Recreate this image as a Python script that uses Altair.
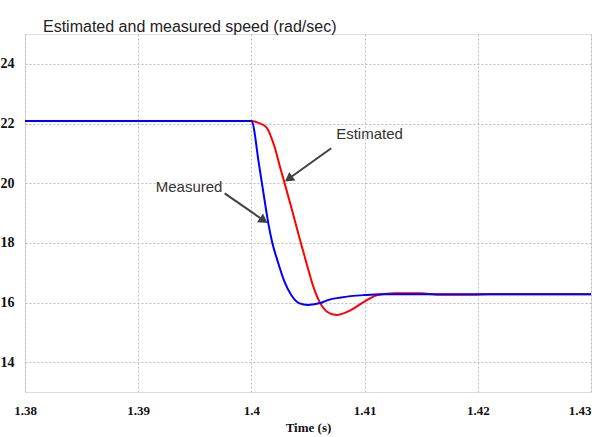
import altair as alt
import pandas as pd

# Measured speed (blue)
t_meas = [1.38, 1.40, 1.40068, 1.40130, 1.40152, 1.40183, 1.40234, 1.40293, 1.40352,
          1.40425, 1.40498, 1.40616, 1.40675, 1.40793, 1.40998, 1.41146, 1.43]
v_meas = [22.08, 22.08, 20.61, 19.10, 18.60, 18.03, 17.36, 16.69, 16.25,
          15.97, 15.92, 15.99, 16.08, 16.17, 16.25, 16.28, 16.28]

# Estimated speed (red)
t_est = [1.38, 1.40, 1.40028, 1.40057, 1.40131, 1.40205, 1.40253, 1.40285, 1.40359,
         1.40394, 1.40434, 1.40491, 1.40542, 1.40601, 1.40672, 1.40749, 1.40881,
         1.40998, 1.41116, 1.41263, 1.4150, 1.4165, 1.4195, 1.421, 1.43]
v_est = [22.08, 22.08, 22.07, 22.03, 21.88, 21.21, 20.54, 20.11, 19.10,
         18.60, 18.04, 17.26, 16.59, 16.03, 15.68, 15.58, 15.75,
         16.03, 16.25, 16.31, 16.31, 16.26, 16.26, 16.28, 16.28]

x_ticks = [1.38, 1.39, 1.40, 1.41, 1.42, 1.43]
y_ticks = [14, 16, 18, 20, 22, 24]

# Annotations (data units)
ann_labels = ["Estimated", "Measured"]
ann_text_t = [1.40749, 1.39155]
ann_text_v = [21.65, 19.87]
arrow_t0 = [1.40705, 1.39764]
arrow_v0 = [21.17, 19.66]
arrow_t1 = [1.40329, 1.40109]
arrow_v1 = [20.146, 18.75]
arrow_angle = [144.4, 34.7]

meas = pd.DataFrame({"t": t_meas, "v": v_meas})
est = pd.DataFrame({"t": t_est, "v": v_est})
ann = pd.DataFrame({"label": ann_labels, "tt": ann_text_t, "tv": ann_text_v,
                    "t0": arrow_t0, "v0": arrow_v0, "t1": arrow_t1, "v1": arrow_v1,
                    "ang": arrow_angle})

xscale = alt.Scale(domain=[1.38, 1.43], nice=False, zero=False)
yscale = alt.Scale(domain=[13, 25], nice=False, zero=False)

xaxis = alt.Axis(values=x_ticks, title="Time (s)", labelExpr="format(datum.value, '.2~f')",
                 grid=True, gridDash=[2, 2], gridColor="#bdbdbd", gridWidth=1,
                 ticks=False, domain=False, labelPadding=12,
                 labelFont="Liberation Serif", labelFontWeight="bold", labelFontSize=13,
                 labelColor="#111",
                 labelAlign={"condition": {"test": "datum.value >= 1.429", "value": "right"},
                             "value": "center"},
                 titleFont="Liberation Serif", titleFontWeight="bold", titleFontSize=13,
                 titleColor="#111", titlePadding=4)
yaxis = alt.Axis(values=y_ticks, title=None,
                 grid=True, gridDash=[2, 2], gridColor="#bdbdbd", gridWidth=1,
                 ticks=False, domain=False, labelPadding=11,
                 labelFont="Liberation Serif", labelFontWeight="bold", labelFontSize=14,
                 labelColor="#111")

base_x = alt.X("t:Q", scale=xscale, axis=xaxis)
base_y = alt.Y("v:Q", scale=yscale, axis=yaxis)

red = alt.Chart(est).mark_line(color="#ff0000", strokeWidth=2, interpolate="monotone").encode(
    x=base_x, y=base_y)
blue = alt.Chart(meas).mark_line(color="#0000ff", strokeWidth=2, interpolate="monotone").encode(
    x=alt.X("t:Q", scale=xscale), y=alt.Y("v:Q", scale=yscale))

shaft = alt.Chart(ann).mark_rule(color="#404040", strokeWidth=2).encode(
    x=alt.X("t0:Q", scale=xscale), y=alt.Y("v0:Q", scale=yscale),
    x2="t1:Q", y2="v1:Q")
heads = alt.Chart(ann).mark_point(shape="triangle-right", filled=True, color="#404040",
                                  size=110, opacity=1).encode(
    x=alt.X("t1:Q", scale=xscale), y=alt.Y("v1:Q", scale=yscale),
    angle=alt.Angle("ang:Q", scale=None))
texts = alt.Chart(ann).mark_text(align="left", baseline="middle", font="Liberation Sans",
                                 fontSize=15, color="#333333").encode(
    x=alt.X("tt:Q", scale=xscale), y=alt.Y("tv:Q", scale=yscale), text="label:N")

chart = alt.layer(red, blue, shaft, heads, texts).properties(
    width=566, height=358,
    title=alt.TitleParams("Estimated and measured speed (rad/sec)", anchor="start",
                          frame="group", font="Liberation Sans", fontSize=16,
                          fontWeight="normal", color="#222222", dx=18, dy=23, offset=6,
                          baseline="bottom"),
    autosize=alt.AutoSizeParams(type="none"),
    padding={"left": 25, "top": 34, "right": 5, "bottom": 45},
).configure_view(stroke="#9a9a9a", strokeWidth=1.5).configure(background="white")

chart.save("out.html", embed_options={"renderer": "svg", "actions": False})
